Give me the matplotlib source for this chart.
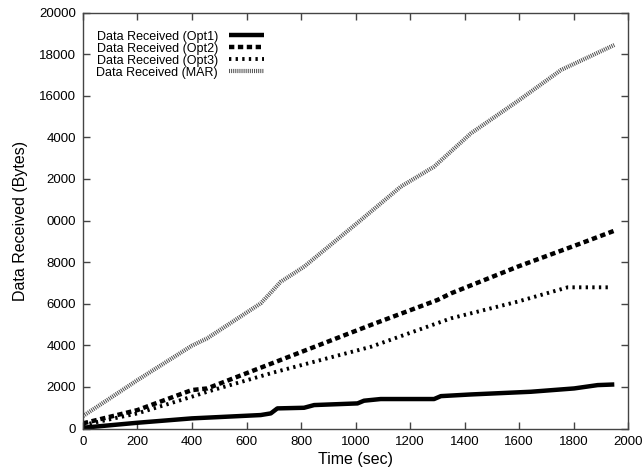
import matplotlib
matplotlib.use("Agg")
import matplotlib.pyplot as plt
from matplotlib.ticker import FixedLocator, FixedFormatter

plt.rcParams['font.family'] = ['Liberation Sans', 'DejaVu Sans']

# Data
t_opt1 = [0, 200, 399, 652, 689, 713, 811, 848, 1007, 1031, 1092, 1288, 1313, 1423, 1643, 1802, 1888, 1949]
v_opt1 = [40, 280, 490, 650, 730, 970, 1000, 1130, 1210, 1340, 1420, 1420, 1560, 1640, 1770, 1930, 2090, 2120]

t_opt2 = [0, 200, 399, 456, 700, 1056, 1300, 1350, 1594, 1826, 1949]
v_opt2 = [250, 890, 1850, 1930, 3170, 4980, 6180, 6500, 7780, 8900, 9510]

t_opt3 = [0, 200, 399, 456, 700, 1056, 1350, 1594, 1778, 1937]
v_opt3 = [170, 730, 1530, 1770, 2700, 3930, 5300, 6100, 6790, 6790]

t_mar = [0, 200, 399, 456, 652, 690, 725, 811, 1019, 1166, 1288, 1423, 1600, 1754, 1949]
v_mar = [600, 2330, 3980, 4340, 6020, 6550, 7050, 7780, 10020, 11630, 12590, 14190, 15790, 17240, 18440]

labels = ['Data Received (Opt1)', 'Data Received (Opt2)', 'Data Received (Opt3)', 'Data Received (MAR)']

x_ticks = list(range(0, 2001, 200))
y_ticks = list(range(0, 20001, 2000))
y_tick_labels = ['0', '2000', '4000', '6000', '8000', '0000', '2000', '4000', '16000', '18000', '20000']

fig = plt.figure(figsize=(6.43, 4.72), dpi=100)
ax = fig.add_axes([0.129, 0.092, 0.848, 0.8815])

ax.plot(t_opt1, v_opt1, color='black', lw=3.2, solid_capstyle='butt', label=labels[0])
ax.plot(t_opt2, v_opt2, color='black', lw=3.2, dashes=(1.2, 0.8), label=labels[1])
ax.plot(t_opt3, v_opt3, color='black', lw=2.8, dashes=(0.6, 1.1), label=labels[2])
ax.plot(t_mar, v_mar, color='#555555', lw=3.0, dashes=(0.25, 0.25), label=labels[3])

ax.set_xlim(0, 2000)
ax.set_ylim(0, 20000)
ax.xaxis.set_major_locator(FixedLocator(x_ticks))
ax.yaxis.set_major_locator(FixedLocator(y_ticks))
ax.yaxis.set_major_formatter(FixedFormatter(y_tick_labels))
ax.tick_params(direction='in', length=5, width=1, color='#444444', top=True, right=True,
               labelsize=9.5, pad=5)
for s in ax.spines.values():
    s.set_color('#444444')
    s.set_linewidth(1.0)

ax.set_xlabel('Time (sec)', fontsize=11.5, labelpad=3)
ax.set_ylabel('Data Received (Bytes)', fontsize=11.5, labelpad=8)

leg = ax.legend(loc='upper left', bbox_to_anchor=(0.006, 0.98), frameon=False, markerfirst=False,
                fontsize=9, handlelength=2.8, handletextpad=0.9, labelspacing=0.0,
                borderpad=0.3)

fig.savefig('out.png', dpi=100)
